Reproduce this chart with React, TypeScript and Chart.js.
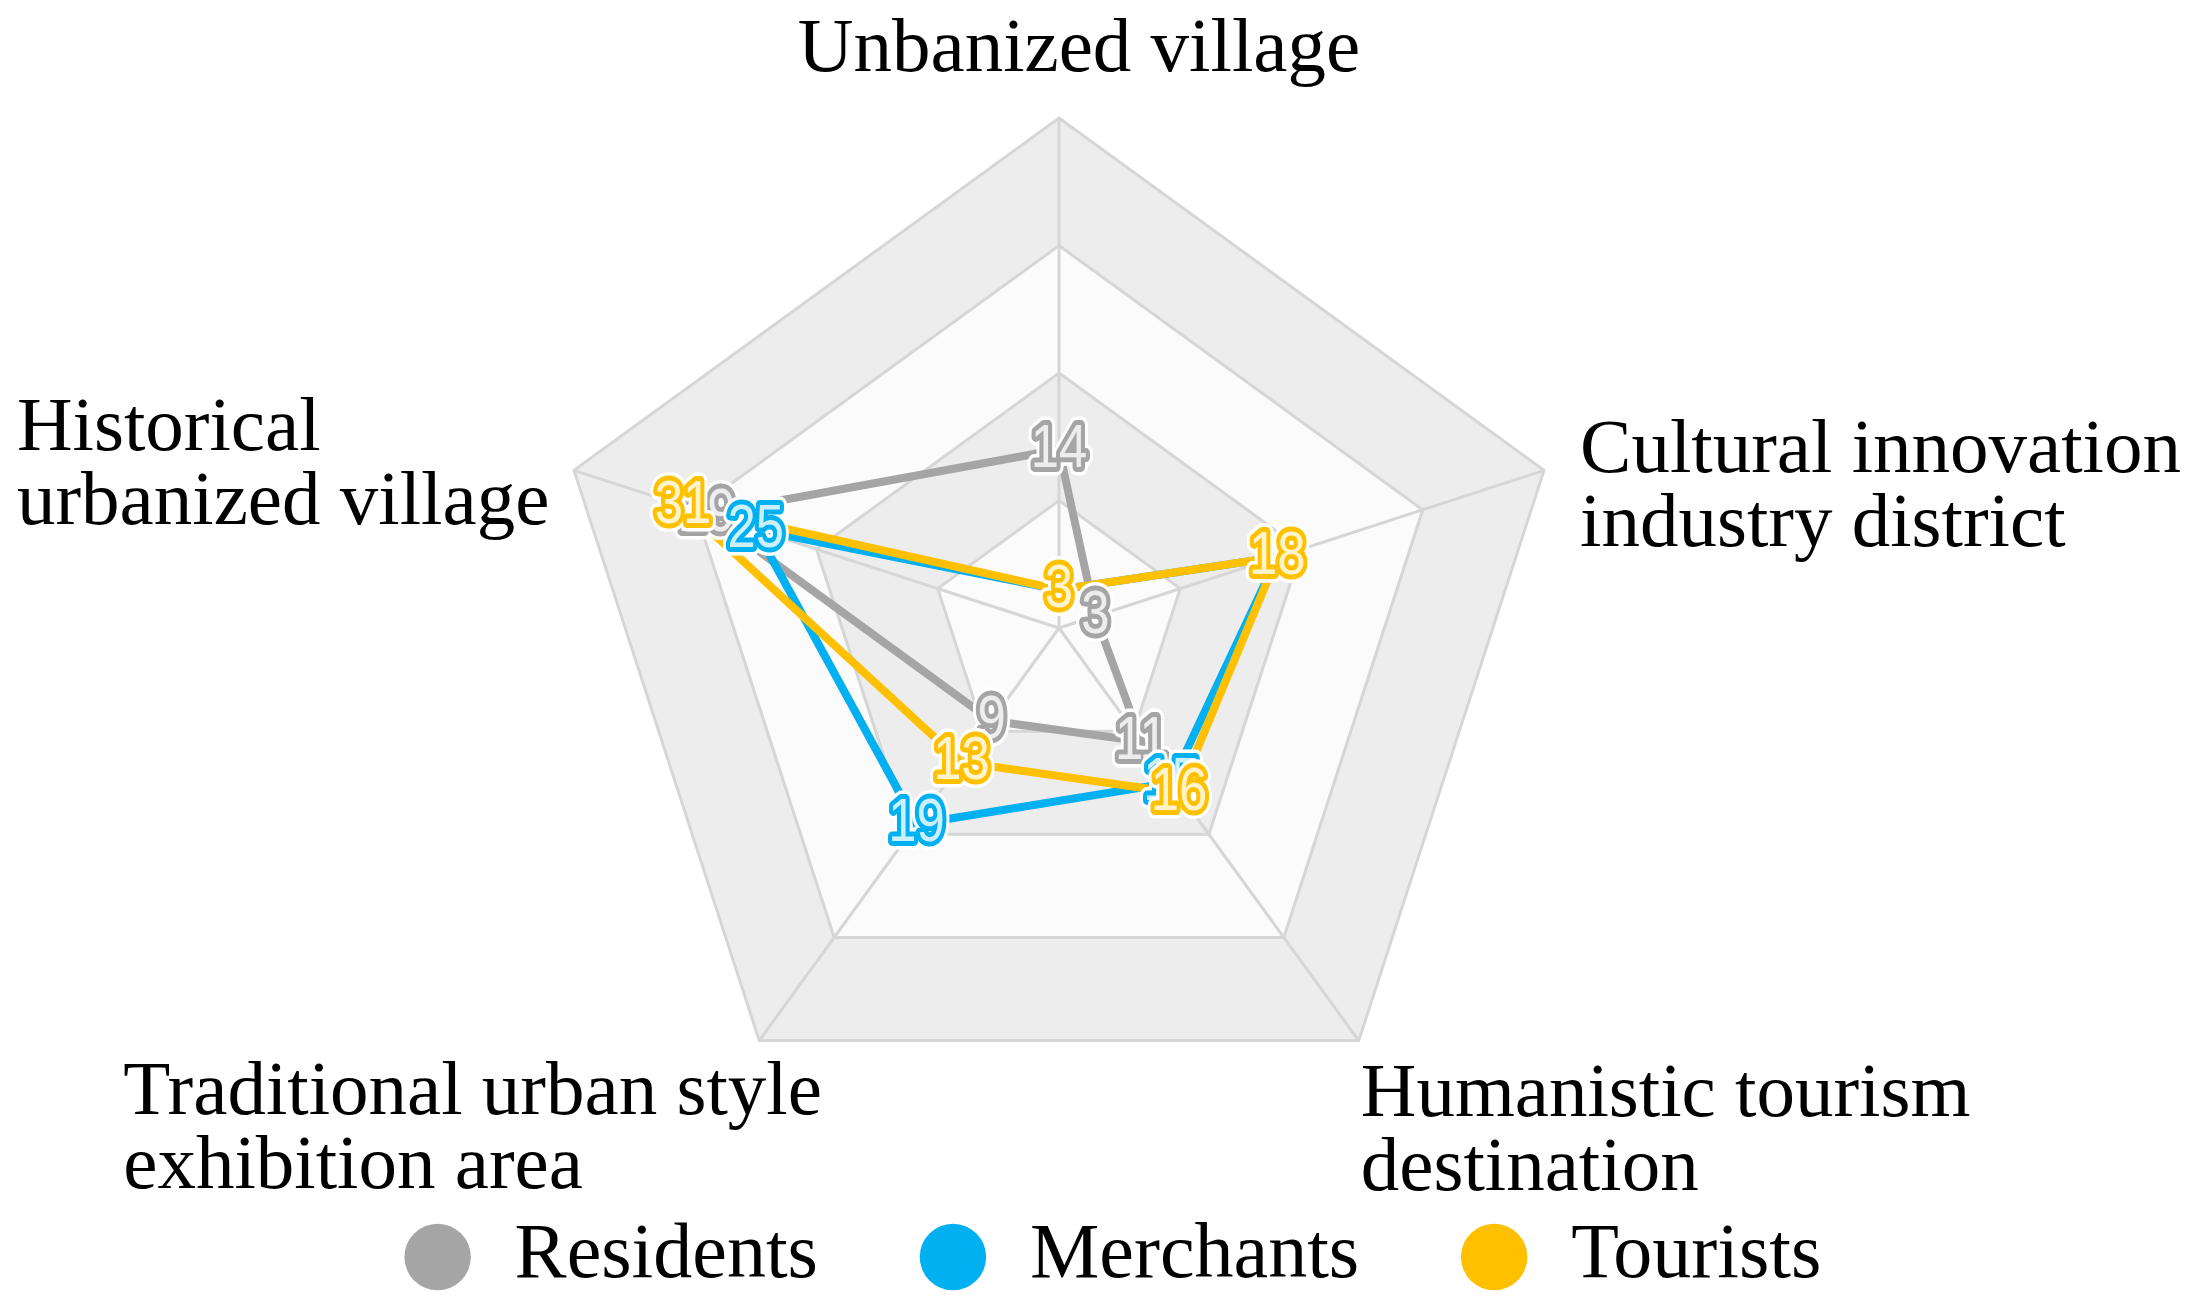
import React, { useEffect, useRef } from "react";
import { Chart, registerables } from "chart.js";

Chart.register(...registerables);

// ---- data ----
const categories: string[][] = [
  ["Unbanized village"],
  ["Cultural innovation", "industry district"],
  ["Humanistic tourism", "destination"],
  ["Traditional urban style", "exhibition area"],
  ["Historical", "urbanized village"],
];
const seriesNames = ["Residents", "Merchants", "Tourists"];
const residents = [14, 3, 11, 9, 29];
const merchants = [3, 18, 15, 19, 25];
const tourists = [3, 18, 16, 13, 31];
const axisMin = 0;
const axisMax = 40;
const axisStep = 10;

// ---- styles ----
const seriesColors = ["#a5a5a5", "#00b0f0", "#ffc000"];
const bandColors = ["#fbfbfb", "#ededed"]; // alternate from inner to outer
const gridColor = "#d6d6d6";
const W = 2193;
const H = 1306;
const CENTER_X = 1059;
const CENTER_Y = 628;
const RADIUS = 510;
const LABEL_FONT = '77px "Liberation Serif", "Times New Roman", serif';
const LABEL_LINE = 74;
// anchor offsets of the category labels relative to each outer vertex
const labelAnchors = [
  { dx: 20, dy: -47, align: "center" },
  { dx: 36, dy: 2, align: "left" },
  { dx: 2, dy: 75, align: "left" },
  { dx: -636, dy: 73, align: "left" },
  { dx: -557, dy: -20, align: "left" },
];

const bandsPlugin = {
  id: "bands",
  beforeDraw(chart: any) {
    const scale = chart.scales.r;
    const ctx = chart.ctx;
    const n = categories.length;
    const steps: number[] = [];
    for (let v = axisMax; v > axisMin; v -= axisStep) steps.push(v);
    ctx.save();
    steps.forEach((v) => {
      const k = Math.round((v - axisMin) / axisStep) - 1;
      const d = scale.getDistanceFromCenterForValue(v);
      ctx.beginPath();
      for (let i = 0; i < n; i++) {
        const p = scale.getPointPosition(i, d);
        if (i === 0) ctx.moveTo(p.x, p.y);
        else ctx.lineTo(p.x, p.y);
      }
      ctx.closePath();
      ctx.fillStyle = bandColors[k % 2];
      ctx.fill();
    });
    ctx.restore();
  },
};

const textPlugin = {
  id: "texts",
  afterDatasetsDraw(chart: any) {
    const ctx = chart.ctx;
    const scale = chart.scales.r;
    // value labels
    ctx.save();
    ctx.font = '62px "Liberation Sans", Arial, sans-serif';
    ctx.textAlign = "center";
    ctx.textBaseline = "middle";
    ctx.lineJoin = "round";
    chart.data.datasets.forEach((ds: any, di: number) => {
      const meta = chart.getDatasetMeta(di);
      meta.data.forEach((el: any, i: number) => {
        const txt = String(ds.data[i]);
        ctx.save();
        ctx.translate(el.x, el.y);
        ctx.scale(0.82, 1);
        ctx.strokeStyle = "#ffffff";
        ctx.lineWidth = 17;
        ctx.strokeText(txt, 0, 0);
        ctx.strokeStyle = seriesColors[di];
        ctx.lineWidth = 10;
        ctx.strokeText(txt, 0, 0);
        ctx.fillStyle = "rgba(255,255,255,0.8)";
        ctx.fillText(txt, 0, 0);
        ctx.restore();
      });
    });
    ctx.restore();
    // category labels
    ctx.save();
    ctx.font = LABEL_FONT;
    ctx.fillStyle = "#000";
    ctx.textBaseline = "alphabetic";
    categories.forEach((lines, i) => {
      const p = scale.getPointPosition(i, scale.getDistanceFromCenterForValue(axisMax));
      const a = labelAnchors[i];
      ctx.textAlign = a.align;
      lines.forEach((line, li) => {
        ctx.fillText(line, p.x + a.dx, p.y + a.dy + li * LABEL_LINE);
      });
    });
    ctx.restore();
  },
};

export default function App() {
  const ref = useRef<HTMLCanvasElement | null>(null);
  useEffect(() => {
    if (!ref.current) return;
    const values = [residents, merchants, tourists];
    const chart = new Chart(ref.current, {
      type: "radar",
      data: {
        labels: categories.map((c) => c.join(" ")),
        datasets: seriesNames.map((name, i) => ({
          label: name,
          data: values[i],
          borderColor: seriesColors[i],
          backgroundColor: seriesColors[i],
          borderWidth: 8,
          pointRadius: 0,
          pointHoverRadius: 0,
          fill: false,
          tension: 0,
          clip: false,
          order: seriesNames.length - 1 - i,
        })),
      },
      options: {
        responsive: false,
        animation: false,
        layout: { padding: { left: 28, right: 0, top: 0, bottom: 0 } },
        plugins: {
          tooltip: { enabled: false },
          legend: {
            position: "bottom",
            labels: {
              usePointStyle: true,
              pointStyle: "circle",
              boxWidth: 76,
              boxHeight: 47,
              padding: 97,
              color: "#000",
              font: { family: '"Liberation Serif", "Times New Roman", serif', size: 78 },
              sort: (a: any, b: any) => a.datasetIndex - b.datasetIndex,
              generateLabels: (c: any) =>
                (Chart.defaults.plugins.legend.labels as any)
                  .generateLabels(c)
                  .map((l: any) => ({ ...l, lineWidth: 0 })),
            },
          },
        },
        scales: {
          r: {
            min: axisMin,
            max: axisMax,
            ticks: { display: false, stepSize: axisStep },
            pointLabels: { display: false },
            grid: { color: gridColor, lineWidth: 3 },
            angleLines: { color: gridColor, lineWidth: 3 },
            afterFit: (scale: any) => {
              scale.xCenter = CENTER_X;
              scale.yCenter = CENTER_Y;
              scale.drawingArea = RADIUS;
            },
          },
        },
      } as any,
      plugins: [bandsPlugin, textPlugin],
    });
    return () => chart.destroy();
  }, []);
  return (
    <div style={{ position: "fixed", left: 0, top: 0, width: W, height: H, background: "#fff" }}>
      <canvas ref={ref} width={W} height={H} style={{ display: "block" }} />
    </div>
  );
}
